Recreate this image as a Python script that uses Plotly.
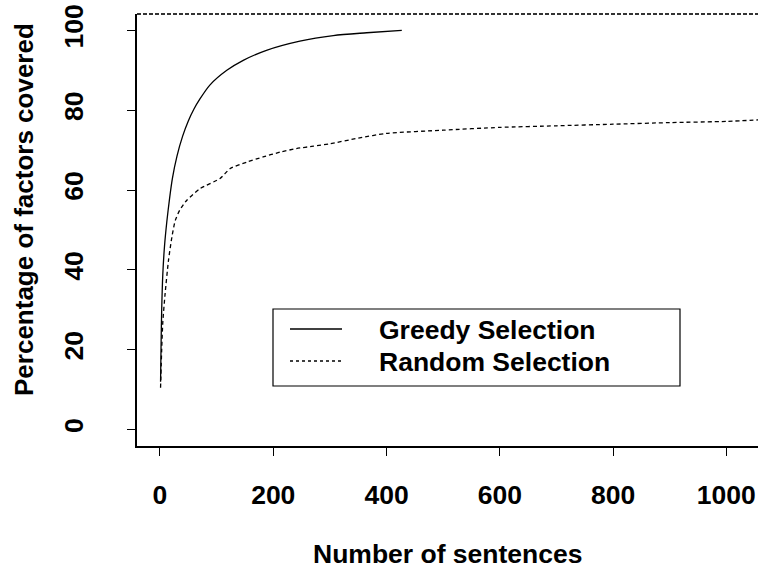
import plotly.graph_objects as go

# Data
greedy_x = [1, 2, 3, 5, 8, 12, 17, 22, 30, 40, 50, 60, 70, 88, 118, 147, 188, 247, 306, 365, 427]
greedy_y = [12, 22, 30, 39, 46, 52, 58, 63, 68.5, 73.5, 77.3, 80.3, 82.7, 86.3, 90, 92.5, 95,
            97.3, 98.7, 99.4, 100]

random_x = [1, 3, 5, 9, 15, 21, 27, 35, 47, 71, 106, 124, 153, 182, 212, 241, 271, 300,
            350, 400, 500, 600, 700, 800, 900, 1000, 1060]
random_y = [10.5, 20, 27, 34, 42.4, 48.2, 52.4, 55, 57.4, 60.4, 62.9, 65.4, 67, 68.3, 69.5,
            70.4, 71, 71.6, 73, 74.2, 75, 75.7, 76.1, 76.5, 76.9, 77.2, 77.6]

x_ticks = [0, 200, 400, 600, 800, 1000]
y_ticks = [0, 20, 40, 60, 80, 100]
series_names = ["Greedy Selection", "Random Selection"]
x_title = "Number of sentences"
y_title = "Percentage of factors covered"

FONT = "Liberation Sans, Arial, Helvetica, sans-serif"
FS = 26.5
W, H = 759, 570
L, R, T, B = 137, 1, 14, 124
PW, PH = W - L - R, H - T - B


def px(xp):
    return (xp - L) / PW


def py(yp):
    return (H - B - yp) / PH


fig = go.Figure()
fig.add_trace(go.Scatter(x=greedy_x, y=greedy_y, mode="lines", name=series_names[0],
                         line=dict(color="black", width=1.3, shape="spline", smoothing=0.8)))
fig.add_trace(go.Scatter(x=random_x, y=random_y, mode="lines", name=series_names[1],
                         line=dict(color="black", width=1.3, dash="4px,3px", shape="spline",
                                   smoothing=0.6)))

fig.update_layout(
    width=W, height=H,
    margin=dict(l=L, r=R, t=T, b=B, pad=0, autoexpand=False),
    paper_bgcolor="white", plot_bgcolor="white",
    showlegend=False,
    font=dict(family=FONT, color="black"),
    xaxis=dict(range=[-40.6, 1056], tickmode="array", tickvals=x_ticks,
               ticks="outside", ticklen=8, tickwidth=1.2, tickcolor="black",
               showline=True, linecolor="black", linewidth=1.5, mirror=False,
               showgrid=False, zeroline=False, automargin=False,
               tickfont=dict(size=FS, family=FONT, weight="bold", color="black"),
               ticklabelstandoff=16),
    yaxis=dict(range=[-4.1, 104.1], tickmode="array", tickvals=y_ticks,
               ticks="outside", ticklen=8, tickwidth=1.2, tickcolor="black",
               showline=True, linecolor="black", linewidth=1.5, mirror=False,
               showgrid=False, zeroline=False, tickangle=-90, automargin=False,
               tickfont=dict(size=FS, family=FONT, weight="bold", color="black"),
               ticklabelstandoff=34),
)

# Dotted-looking top border of the plot box
fig.add_shape(type="line", xref="paper", yref="paper", x0=0, x1=1, y0=1, y1=1,
              line=dict(color="#333333", width=2, dash="4px,2px"))

# Axis titles
fig.add_annotation(text=x_title, xref="paper", yref="paper", x=0.5, y=py(554),
                   xanchor="center", yanchor="middle", showarrow=False,
                   font=dict(size=FS, family=FONT, weight="bold", color="black"))
fig.add_annotation(text=y_title, xref="paper", yref="paper", x=px(24), y=py(210),
                   xanchor="center", yanchor="middle", showarrow=False, textangle=-90,
                   font=dict(size=FS - 0.5, family=FONT, weight="bold", color="black"))

# Legend box drawn manually
fig.add_shape(type="rect", xref="paper", yref="paper", x0=px(273), x1=px(680),
              y0=py(386), y1=py(309), line=dict(color="black", width=1.2),
              fillcolor="white", layer="above")
fig.add_shape(type="line", xref="paper", yref="paper", x0=px(290), x1=px(342),
              y0=py(329), y1=py(329), line=dict(color="black", width=1.3), layer="above")
fig.add_shape(type="line", xref="paper", yref="paper", x0=px(290), x1=px(342),
              y0=py(361), y1=py(361), line=dict(color="black", width=1.3, dash="3px,3px"),
              layer="above")
for name, ycen in zip(series_names, [329, 361]):
    fig.add_annotation(text=name, xref="paper", yref="paper", x=px(377), y=py(ycen + 1),
                       xanchor="left", yanchor="middle", showarrow=False,
                       font=dict(size=FS, family=FONT, weight="bold", color="black"))

fig.write_html("out.html", config={"displayModeBar": False},
               post_script="document.body.style.margin='0';document.body.style.overflow='hidden';")
